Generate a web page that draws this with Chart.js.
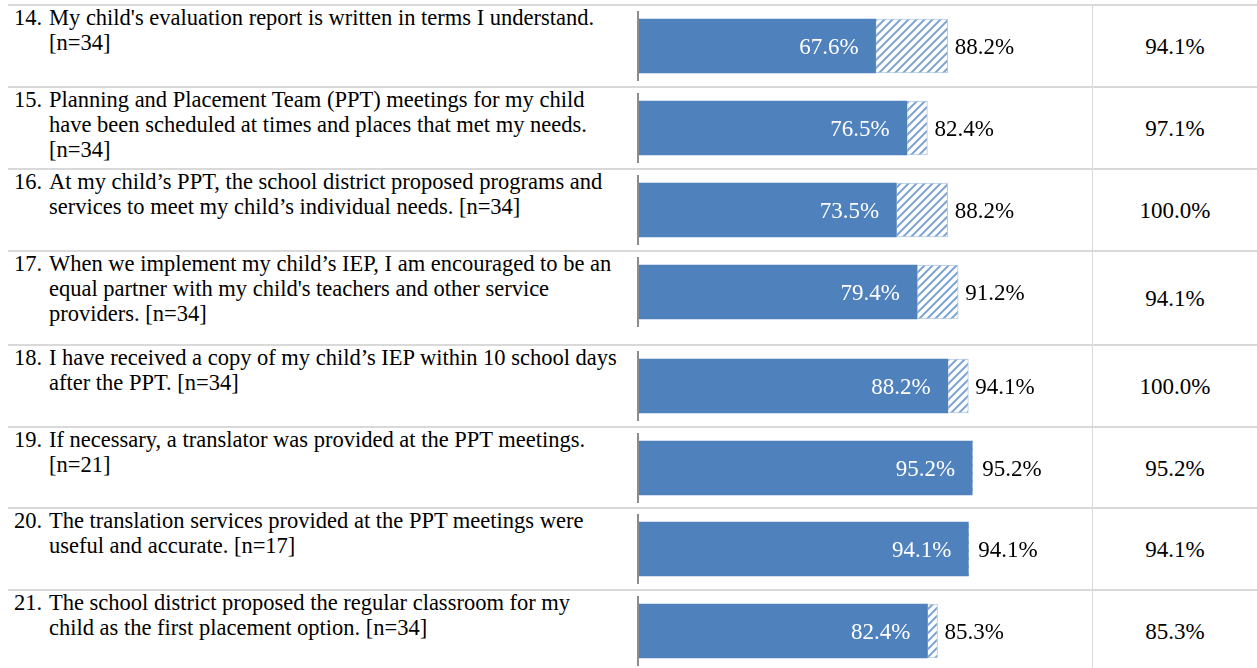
<!DOCTYPE html>
<html><head><meta charset="utf-8">
<script src="https://cdn.jsdelivr.net/npm/chart.js@4.4.1/dist/chart.umd.min.js"></script>
<style>
body{margin:0;background:#fff;}
#wrap{position:relative;width:1257px;height:668px;overflow:hidden;font-family:"Liberation Serif","Times New Roman",serif;color:#000;}
.row{position:absolute;left:0;width:1257px;box-sizing:border-box;}
.rule{position:absolute;left:8px;right:0;top:0;height:2px;background:#d9d9d9;}
.q{position:absolute;left:14px;top:1px;width:625px;font-size:22.5px;line-height:25px;}
.q .num{position:absolute;left:0;top:0;}
.q .txt{margin-left:35px;white-space:nowrap;}
.st{position:absolute;left:1092px;right:0;top:2px;bottom:0;display:flex;align-items:center;justify-content:center;font-size:23px;border-left:1px solid #d9d9d9;padding-top:2px;box-sizing:border-box;}
.cv{position:absolute;left:637px;width:453px;height:70px;top:7px;}
</style>
</head><body>
<div id="wrap"></div>
<script>
// ---- data ----
const itemNumbers = ["14.", "15.", "16.", "17.", "18.", "19.", "20.", "21."];
const questionLines = [
  ["My child's evaluation report is written in terms I understand.", "[n=34]"],
  ["Planning and Placement Team (PPT) meetings for my child", "have been scheduled at times and places that met my needs.", "[n=34]"],
  ["At my child\u2019s PPT, the school district proposed programs and", "services to meet my child\u2019s individual needs. [n=34]"],
  ["When we implement my child\u2019s IEP, I am encouraged to be an", "equal partner with my child's teachers and other service", "providers. [n=34]"],
  ["I have received a copy of my child\u2019s IEP within 10 school days", "after the PPT. [n=34]"],
  ["If necessary, a translator was provided at the PPT meetings.", "[n=21]"],
  ["The translation services provided at the PPT meetings were", "useful and accurate. [n=17]"],
  ["The school district proposed the regular classroom for my", "child as the first placement option. [n=34]"]
];
const strongValues = [67.6, 76.5, 73.5, 79.4, 88.2, 95.2, 94.1, 82.4];   // solid segment
const moderateValues = [20.6, 5.9, 14.7, 11.8, 5.9, 0, 0, 2.9];         // hatched segment
const stateValues = ["94.1%", "97.1%", "100.0%", "94.1%", "100.0%", "95.2%", "94.1%", "85.3%"];

// ---- layout (row geometry) ----
const rowTops = [4, 86, 168, 250, 344, 426, 507, 589];
const rowHeights = [82, 82, 82, 94, 82, 81, 82, 82];

const BLUE = '#4f81bd';
function makeHatch() {
  const c = document.createElement('canvas');
  c.width = 8; c.height = 8;
  const g = c.getContext('2d');
  g.fillStyle = '#ffffff'; g.fillRect(0, 0, 8, 8);
  g.strokeStyle = '#7fa5d6'; g.lineWidth = 2;
  g.beginPath();
  g.moveTo(-1, 9); g.lineTo(9, -1);
  g.moveTo(-5, 5); g.lineTo(5, -5);
  g.moveTo(3, 13); g.lineTo(13, 3);
  g.stroke();
  return g.createPattern(c, 'repeat');
}

const labelPlugin = {
  id: 'rowLabels',
  beforeDatasetsDraw(chart) {
    const {ctx, scales} = chart;
    const x0 = scales.x.getPixelForValue(0);
    ctx.save();
    ctx.strokeStyle = '#8c8c8c'; ctx.lineWidth = 2;
    ctx.beginPath(); ctx.moveTo(x0 - 1, 0); ctx.lineTo(x0 - 1, chart.height); ctx.stroke();
    ctx.restore();
  },
  afterDatasetsDraw(chart) {
    const {ctx, scales} = chart;
    const i = chart.options.rowIndex;
    const solid = chart.getDatasetMeta(0).data[0];
    const s = strongValues[i], m = moderateValues[i];
    const total = s + m;
    const y = solid.y + 2;
    ctx.save();
    ctx.font = '23px "Liberation Serif", serif';
    ctx.textBaseline = 'middle';
    ctx.fillStyle = '#ffffff'; ctx.textAlign = 'right';
    ctx.fillText(s.toFixed(1) + '%', scales.x.getPixelForValue(s) - 17, y);
    ctx.fillStyle = '#000000'; ctx.textAlign = 'left';
    ctx.fillText(total.toFixed(1) + '%', scales.x.getPixelForValue(total) + (m > 0 ? 7 : 10), y);
    ctx.restore();
  }
};

const wrap = document.getElementById('wrap');
const hatch = makeHatch();
itemNumbers.forEach((num, i) => {
  const row = document.createElement('div');
  row.className = 'row';
  row.style.top = rowTops[i] + 'px';
  row.style.height = rowHeights[i] + 'px';
  const rule = document.createElement('div'); rule.className = 'rule';
  row.appendChild(rule);
  const q = document.createElement('div');
  q.className = 'q';
  const n = document.createElement('span'); n.className = 'num'; n.textContent = num;
  q.appendChild(n);
  questionLines[i].forEach(line => {
    const d = document.createElement('div'); d.className = 'txt'; d.textContent = line; q.appendChild(d);
  });
  row.appendChild(q);
  const cvWrap = document.createElement('div'); cvWrap.className = 'cv';
  const cv = document.createElement('canvas');
  cvWrap.appendChild(cv);
  row.appendChild(cvWrap);
  const st = document.createElement('div'); st.className = 'st'; st.textContent = stateValues[i];
  row.appendChild(st);
  wrap.appendChild(row);

  new Chart(cv, {
    type: 'bar',
    data: {
      labels: [num],
      datasets: [
        {data: [strongValues[i]], backgroundColor: BLUE, borderWidth: 0, barThickness: 54},
        {data: [moderateValues[i]], backgroundColor: hatch, borderColor: '#b4cae6',
         borderWidth: moderateValues[i] > 0 ? 1 : 0, borderSkipped: false, barThickness: 54}
      ]
    },
    options: {
      rowIndex: i,
      indexAxis: 'y',
      responsive: true,
      maintainAspectRatio: false,
      animation: false,
      layout: {padding: {left: 2, right: 101, top: 0, bottom: 0}},
      scales: {
        x: {stacked: true, min: 0, max: 100, display: false},
        y: {stacked: true, display: false}
      },
      plugins: {legend: {display: false}, tooltip: {enabled: false}}
    },
    plugins: [labelPlugin]
  });
});
</script>
</body></html>
